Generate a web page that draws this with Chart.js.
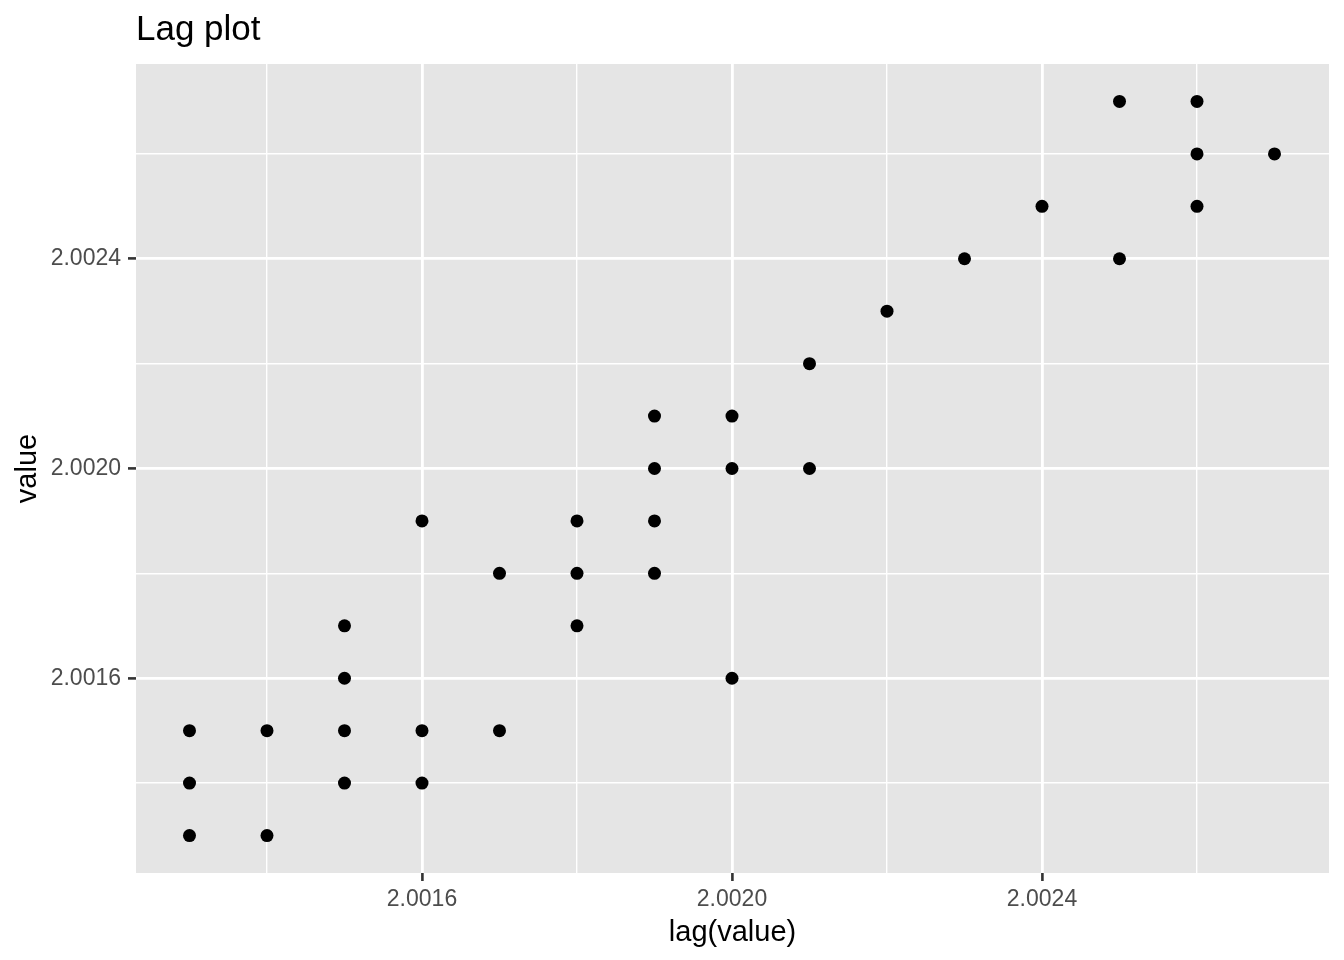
<!DOCTYPE html>
<html>
<head>
<meta charset="utf-8">
<script src="https://cdn.jsdelivr.net/npm/chart.js@4"></script>
<style>
  html, body { margin: 0; padding: 0; background: #fff; }
  #wrap { width: 1344px; height: 960px; }
</style>
</head>
<body>
<div id="wrap"><canvas id="myChart" width="1344" height="960"></canvas></div>
<script>
// lag(value) on x, value on y
var lagValues = [
  2.0013, 2.0013, 2.0013, 2.0014, 2.0014,
  2.0015, 2.0015, 2.0015, 2.0015, 2.0016,
  2.0016, 2.0016, 2.0017, 2.0017, 2.0018,
  2.0018, 2.0018, 2.0019, 2.0019, 2.0019,
  2.0019, 2.0020, 2.0020, 2.0020, 2.0021,
  2.0021, 2.0022, 2.0023, 2.0024, 2.0025,
  2.0025, 2.0026, 2.0026, 2.0026, 2.0027
];
var values = [
  2.0015, 2.0014, 2.0013, 2.0015, 2.0013,
  2.0017, 2.0016, 2.0015, 2.0014, 2.0019,
  2.0015, 2.0014, 2.0018, 2.0015, 2.0019,
  2.0018, 2.0017, 2.0021, 2.0020, 2.0019,
  2.0018, 2.0021, 2.0020, 2.0016, 2.0022,
  2.0020, 2.0023, 2.0024, 2.0025, 2.0027,
  2.0024, 2.0027, 2.0026, 2.0025, 2.0026
];
// grid breaks (minor + major), majors get labels
var gridBreaks = [2.0014, 2.0016, 2.0018, 2.0020, 2.0022, 2.0024, 2.0026];
var majorBreaks = [2.0016, 2.0020, 2.0024];

var points = lagValues.map(function (x, i) { return { x: x, y: values[i] }; });

function isMajor(v) {
  return majorBreaks.some(function (m) { return Math.abs(m - v) < 1e-9; });
}
function gridWidth(c) { return c.tick && isMajor(c.tick.value) ? 2.8 : 1.4; }
function tickCol(c) { return c.tick && isMajor(c.tick.value) ? "#333333" : "rgba(0,0,0,0)"; }

var FONT = "'Liberation Sans', Arial, Helvetica, sans-serif";

var panelBg = {
  id: "panelBg",
  beforeDraw: function (chart) {
    var a = chart.chartArea, c = chart.ctx;
    c.save();
    c.fillStyle = "#E5E5E5";
    c.fillRect(a.left, a.top, a.right - a.left, a.bottom - a.top);
    c.restore();
  },
  afterDraw: function (chart) {
    var c = chart.ctx;
    c.save();
    c.fillStyle = "#000";
    c.font = "35px " + FONT;
    c.textBaseline = "alphabetic";
    c.textAlign = "left";
    c.fillText("Lag plot", chart.chartArea.left, 40);
    c.restore();
  }
};

function scaleOpts(min, max, title) {
  return {
    type: "linear",
    min: min,
    max: max,
    afterBuildTicks: function (scale) {
      scale.ticks = gridBreaks.map(function (v) { return { value: v }; });
    },
    grid: {
      color: "#FFFFFF",
      lineWidth: gridWidth,
      tickLength: 8,
      tickColor: tickCol,
      tickWidth: 2.6
    },
    border: { display: false },
    ticks: {
      color: "#4D4D4D",
      font: { family: FONT, size: 23 },
      callback: function (v) { return isMajor(v) ? v.toFixed(4) : ""; }
    },
    title: {
      display: true,
      text: title,
      color: "#000",
      font: { family: FONT, size: 29, lineHeight: 1.2 }
    }
  };
}

var xOpts = scaleOpts(2.00123097, 2.00277032, "lag(value)");
xOpts.position = "bottom";
xOpts.ticks.padding = 5;
xOpts.ticks.maxRotation = 0;
xOpts.title.padding = { top: 0, bottom: 10 };
xOpts.afterFit = function (scale) { scale.height = 87; };

var yOpts = scaleOpts(2.00122857, 2.00277143, "value");
yOpts.position = "left";
yOpts.ticks.padding = 7;
yOpts.title.padding = { top: 11, bottom: 0 };
yOpts.afterFit = function (scale) { scale.width = 136; };

var ctx = document.getElementById("myChart").getContext("2d");
var chart = new Chart(ctx, {
  type: "scatter",
  data: {
    datasets: [
      {
        label: "value",
        data: points,
        backgroundColor: "#000000",
        borderColor: "#000000",
        borderWidth: 0,
        pointRadius: 6.5,
        pointHoverRadius: 6.5
      }
    ]
  },
  plugins: [panelBg],
  options: {
    responsive: false,
    animation: false,
    devicePixelRatio: 1,
    layout: { padding: { top: 64, right: 15, left: 0, bottom: 0 } },
    plugins: {
      legend: { display: false },
      tooltip: { enabled: false },
      title: { display: false }
    },
    scales: { x: xOpts, y: yOpts }
  }
});
</script>
</body>
</html>
